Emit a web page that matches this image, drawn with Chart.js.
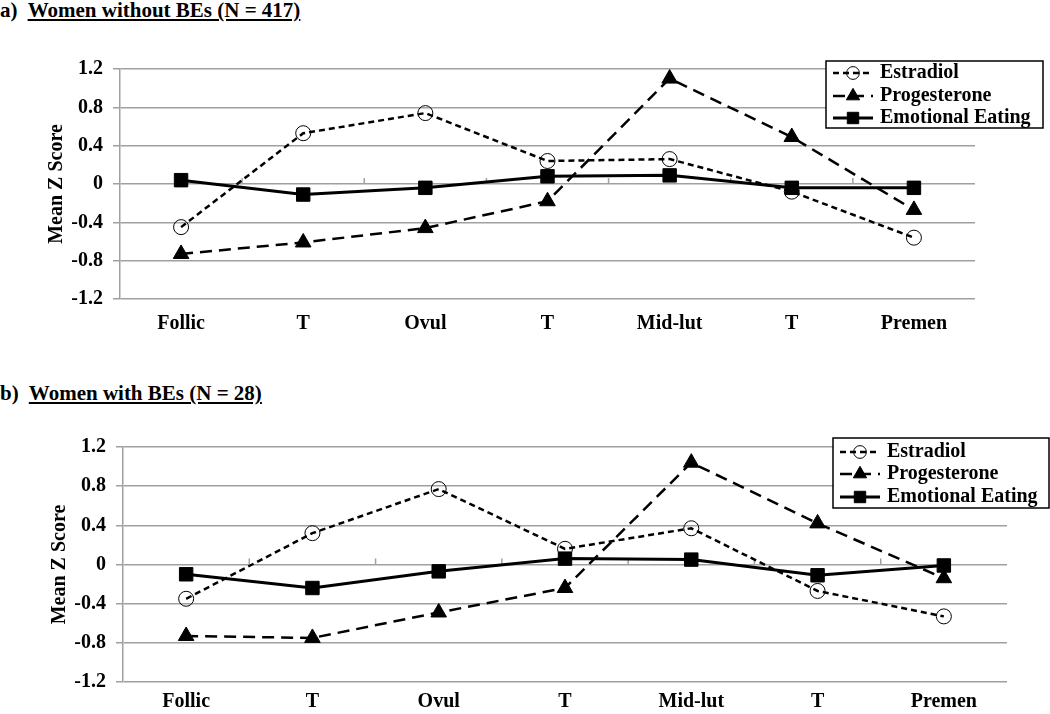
<!DOCTYPE html>
<html>
<head>
<meta charset="utf-8">
<script src="https://cdn.jsdelivr.net/npm/chart.js@4.4.1/dist/chart.umd.min.js"></script>
<style>
body { margin: 0; background: #fff; width: 1050px; height: 714px; overflow: hidden; position: relative;
       font-family: "Liberation Serif", "Times New Roman", Times, "DejaVu Serif", serif; }
.title { position: absolute; left: 0; font-weight: bold; font-size: 21px; line-height: 24px; color: #000; white-space: pre; }
.title span { text-decoration: underline; }
canvas { position: absolute; left: 0; }
</style>
</head>
<body>
<div class="title" style="top:-2px">a)  <span>Women without BEs (N = 417)</span></div>
<canvas id="chartA" width="1050" height="310" style="top:40px"></canvas>
<div class="title" style="top:381px">b)  <span>Women with BEs (N = 28)</span></div>
<canvas id="chartB" width="1050" height="294" style="top:420px"></canvas>

<script>
// Cycle phases (x axis)
const phases = ['Follic', 'T', 'Ovul', 'T', 'Mid-lut', 'T', 'Premen'];

// y axis ticks
const yTicks = [-1.2, -0.8, -0.4, 0, 0.4, 0.8, 1.2];

// a) Women without BEs
const estradiolA    = [-0.45, 0.53, 0.74, 0.24, 0.26, -0.08, -0.56];
const progesteroneA = [-0.73, -0.61, -0.46, -0.18, 1.10, 0.49, -0.27];
const emotionalA    = [0.04, -0.11, -0.04, 0.08, 0.09, -0.04, -0.04];

// b) Women with BEs
const estradiolB    = [-0.35, 0.32, 0.77, 0.16, 0.37, -0.27, -0.53];
const progesteroneB = [-0.73, -0.75, -0.49, -0.24, 1.04, 0.42, -0.14];
const emotionalB    = [-0.10, -0.24, -0.07, 0.06, 0.05, -0.11, -0.01];

const FONT = "'Liberation Serif', 'Times New Roman', Times, serif";
const GRID = '#a0a0a0';

// Legend drawn as a framed box, like the original
const boxLegend = {
    id: 'boxLegend',
    afterDraw(chart, args, opts) {
        const ctx = chart.ctx;
        const [x0, y0, x1, y1] = opts.box;
        ctx.save();
        ctx.fillStyle = '#fff';
        ctx.fillRect(x0, y0, x1 - x0, y1 - y0);
        ctx.strokeStyle = '#000';
        ctx.lineWidth = 1.5;
        ctx.strokeRect(x0, y0, x1 - x0, y1 - y0);
        chart.data.datasets.forEach((ds, i) => {
            const y = opts.rows[i];
            ctx.setLineDash(ds.borderDash || []);
            ctx.lineWidth = ds.borderWidth;
            ctx.strokeStyle = ds.borderColor;
            ctx.beginPath();
            ctx.moveTo(x0 + 7, y);
            ctx.lineTo(x0 + 47, y);
            ctx.stroke();
            ctx.setLineDash([]);
            ctx.fillStyle = ds.pointBackgroundColor;
            ctx.strokeStyle = ds.pointBorderColor;
            ctx.lineWidth = ds.pointBorderWidth;
            Chart.helpers.drawPoint(ctx, {
                pointStyle: ds.pointStyle,
                radius: ds.pointRadius * 0.85,
                borderWidth: ds.pointBorderWidth,
                rotation: 0
            }, x0 + 27, y);
            ctx.fillStyle = '#000';
            ctx.font = 'bold 20px ' + FONT;
            ctx.textBaseline = 'middle';
            ctx.textAlign = 'left';
            ctx.fillText(ds.label, x0 + 54, y);
        });
        ctx.restore();
    }
};

// Small tick marks on the zero line at category boundaries
const zeroTicks = {
    id: 'zeroTicks',
    beforeDatasetsDraw(chart) {
        const xs = chart.scales.x, ys = chart.scales.y;
        const y0 = ys.getPixelForValue(0);
        const ctx = chart.ctx;
        ctx.save();
        ctx.strokeStyle = GRID;
        ctx.lineWidth = 1.5;
        for (let i = 1; i < phases.length; i++) {
            const x = xs.getPixelForValue(i - 0.5);
            ctx.beginPath();
            ctx.moveTo(x, y0);
            ctx.lineTo(x, y0 - 6);
            ctx.stroke();
        }
        ctx.restore();
    }
};

function makeChart(id, est, prog, emo, lay) {
    const ctx = document.getElementById(id).getContext('2d');
    return new Chart(ctx, {
        type: 'line',
        data: {
            labels: phases,
            datasets: [{
                label: 'Estradiol',
                data: est,
                borderColor: '#000',
                borderWidth: 2.5,
                borderDash: [6, 4],
                pointStyle: 'circle',
                pointRadius: 7.5,
                pointBackgroundColor: 'rgba(0,0,0,0)',
                pointBorderColor: '#000',
                pointBorderWidth: 1,
                tension: 0
            }, {
                label: 'Progesterone',
                data: prog,
                borderColor: '#000',
                borderWidth: 2.5,
                borderDash: [12, 7],
                pointStyle: 'triangle',
                pointRadius: 9,
                pointBackgroundColor: '#000',
                pointBorderColor: '#000',
                pointBorderWidth: 1,
                tension: 0
            }, {
                label: 'Emotional Eating',
                data: emo,
                borderColor: '#000',
                borderWidth: 3,
                pointStyle: 'rect',
                pointRadius: 9.5,
                pointBackgroundColor: '#000',
                pointBorderColor: '#000',
                pointBorderWidth: 1,
                tension: 0
            }]
        },
        options: {
            responsive: false,
            animation: false,
            devicePixelRatio: 1,
            layout: { padding: { top: lay.top, right: lay.right, left: 0, bottom: 0 } },
            plugins: {
                legend: { display: false },
                tooltip: { enabled: false },
                boxLegend: { box: lay.box, rows: lay.rows }
            },
            scales: {
                x: {
                    offset: true,
                    grid: { display: false, drawTicks: false },
                    border: { display: false },
                    ticks: {
                        color: '#000',
                        padding: lay.xPad,
                        maxRotation: 0,
                        font: { family: FONT, size: 20, weight: 'bold' }
                    },
                    afterFit(scale) { scale.height = lay.xHeight; }
                },
                y: {
                    min: -1.2,
                    max: 1.2,
                    afterBuildTicks(scale) { scale.ticks = yTicks.map(v => ({ value: v })); },
                    grid: { color: GRID, lineWidth: 1.5, tickLength: 7, tickColor: GRID },
                    border: { color: GRID, width: 1.5 },
                    ticks: {
                        color: '#000',
                        padding: 10,
                        font: { family: FONT, size: 20, weight: 'bold' },
                        callback: v => Math.abs(v) < 1e-9 ? '0' : Number(v).toFixed(1)
                    },
                    title: {
                        display: true,
                        text: 'Mean Z Score',
                        color: '#000',
                        padding: { top: lay.titlePad, bottom: 0 },
                        font: { family: FONT, size: 20, weight: 'bold' }
                    },
                    afterFit(scale) { scale.width = lay.yWidth; }
                }
            }
        },
        plugins: [zeroTicks, boxLegend]
    });
}

function drawAll() {
    makeChart('chartA', estradiolA, progesteroneA, emotionalA, {
        top: 29, right: 75, yWidth: 120, xHeight: 51, xPad: 13, titlePad: 45,
        box: [826, 21, 1043, 88], rows: [33, 56, 78]
    });
    makeChart('chartB', estradiolB, progesteroneB, emotionalB, {
        top: 27, right: 43, yWidth: 123, xHeight: 32, xPad: 8, titlePad: 48,
        box: [833, 18, 1049, 88], rows: [32, 54, 77]
    });
}

if (document.fonts && document.fonts.load) {
    document.fonts.load('bold 20px ' + FONT).then(drawAll, drawAll);
} else {
    drawAll();
}
</script>
</body>
</html>
